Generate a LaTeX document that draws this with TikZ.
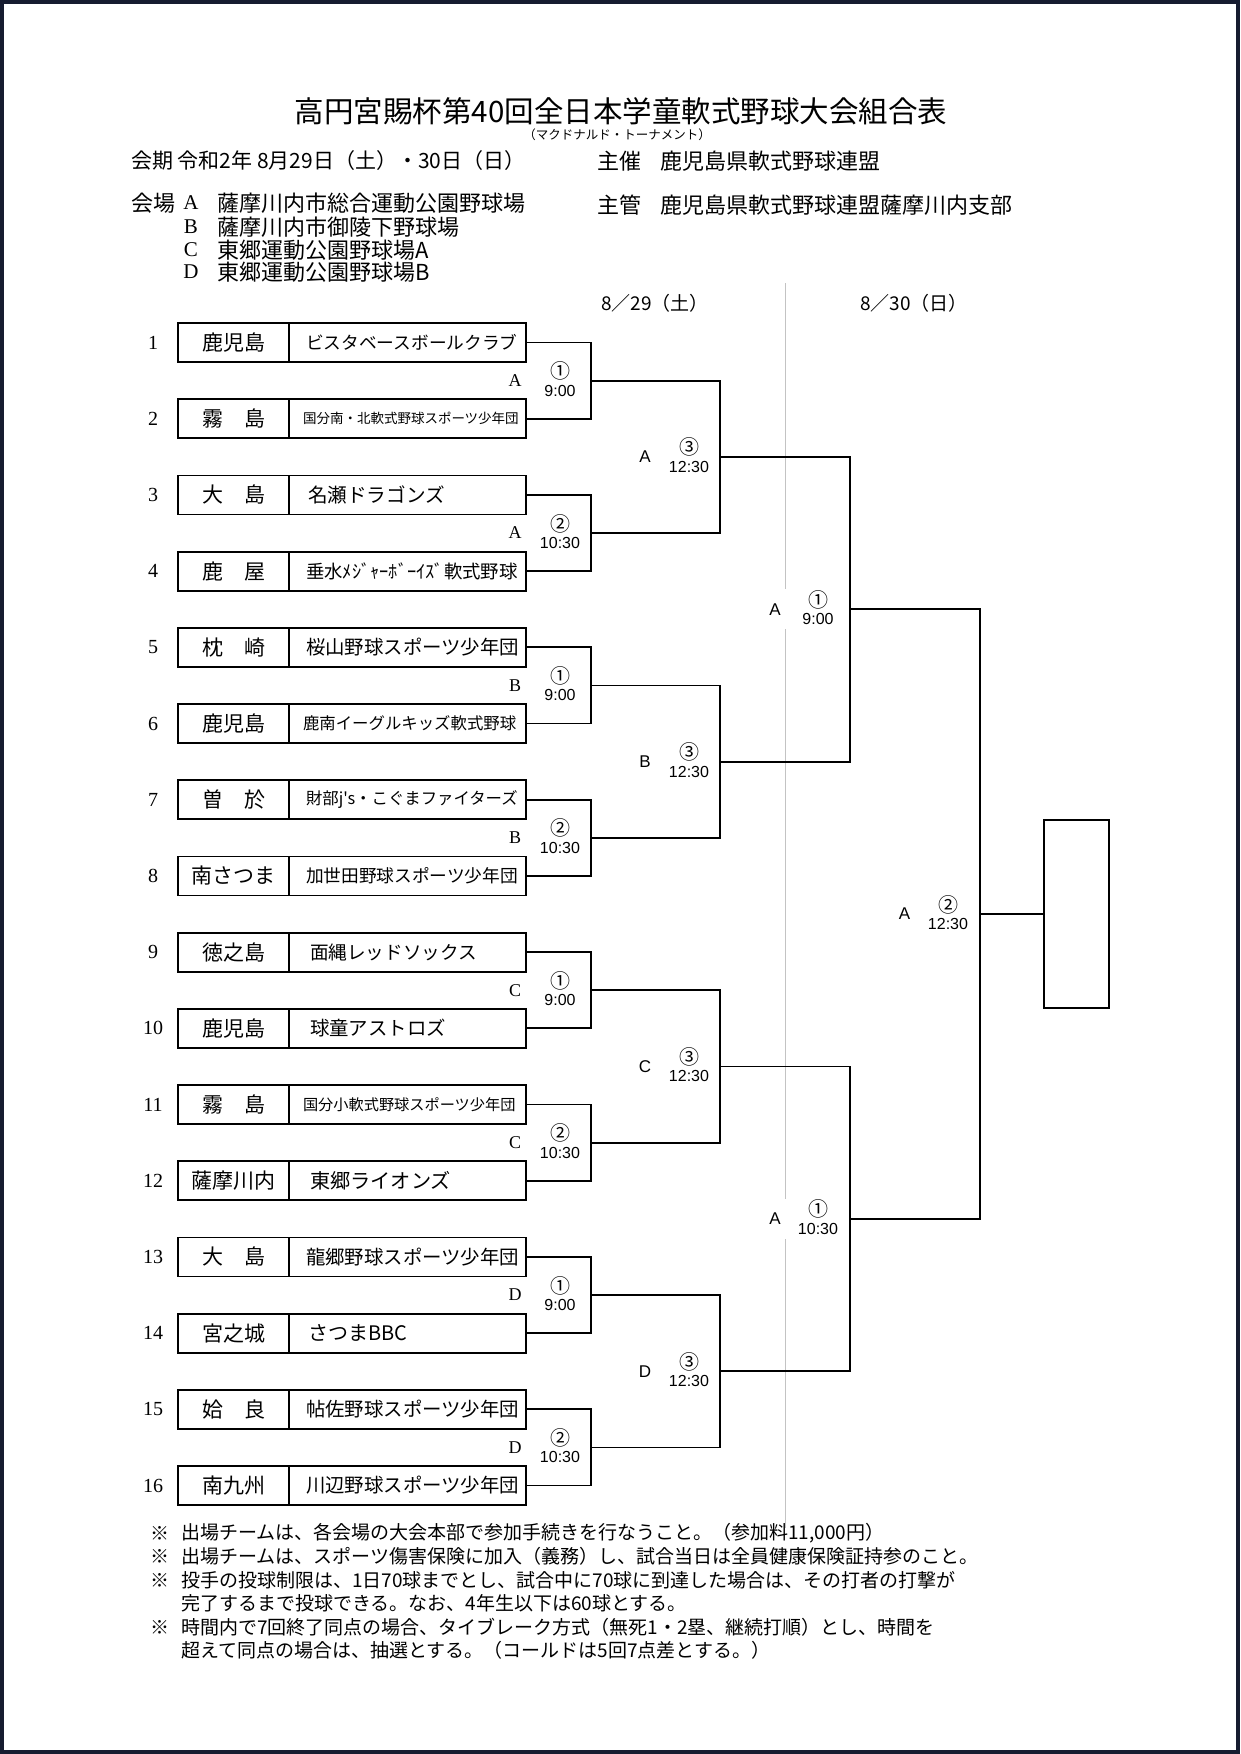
\documentclass[tikz,border=0pt]{standalone}
\usepackage{fontspec}
\setmainfont{Liberation Serif}
\newfontfamily\jp{Noto Sans CJK JP}
\newfontfamily\arialf{Liberation Sans}
\usetikzlibrary{calc}
\definecolor{framecol}{RGB}{22,28,48}
\definecolor{divcol}{RGB}{195,195,195}
\begin{document}
\begin{tikzpicture}[x=1pt,y=-1pt,
  every node/.style={inner sep=0pt, outer sep=0pt},
  cell/.style={draw=black, line width=1.8pt},
  namecell/.style={cell, minimum width=111pt, minimum height=39pt, anchor=west, font=\jp\fontsize{21}{24}\selectfont},
  clubcell/.style={cell, minimum width=237pt, minimum height=39pt, anchor=west},
  seed/.style={font=\fontsize{20}{22}\selectfont},
  bracket/.style={line width=1.8pt},
  ven1/.style={font=\fontsize{18}{20}\selectfont},
  ven/.style={font=\arialf\fontsize{17}{19}\selectfont},
  circ/.style={font=\jp\fontsize{20}{22}\selectfont},
  tm/.style={font=\arialf\fontsize{16}{18}\selectfont},
  hdr/.style={font=\jp\fontsize{22}{24}\selectfont, anchor=west},
  note/.style={font=\jp\fontsize{19}{21}\selectfont, anchor=west},
  blank/.style={fill=white, minimum width=26pt, minimum height=40pt},
]
\useasboundingbox (0,0) rectangle (1240,1754);
\fill[white] (0,0) rectangle (1240,1754);
\draw[framecol, line width=4pt] (2,2) rectangle (1238,1752);

% title
\node[font=\jp\fontsize{29.5}{32}\selectfont] (title) at (621,111) {高円宮賜杯第40回全日本学童軟式野球大会組合表};
\node[font=\jp\fontsize{12.5}{14}\selectfont] (sub) at (617,135) {（マクドナルド・トーナメント）};

% header
\node[hdr, font=\jp\fontsize{21}{24}\selectfont] (kaiki) at (131,161) {会期 令和2年 8月29日（土）・30日（日）};
\node[hdr] (kaijo) at (131,203) {会場};
\node[font=\fontsize{21}{24}\selectfont] (vA) at (191,203) {A};
\node[font=\fontsize{21}{24}\selectfont] (vB) at (191,227) {B};
\node[font=\fontsize{21}{24}\selectfont] (vC) at (191,250) {C};
\node[font=\fontsize{21}{24}\selectfont] (vD) at (191,272) {D};
\node[hdr] (vAn) at (217,203) {薩摩川内市総合運動公園野球場};
\node[hdr] (vBn) at (217,227) {薩摩川内市御陵下野球場};
\node[hdr] (vCn) at (217,250) {東郷運動公園野球場A};
\node[hdr] (vDn) at (217,272) {東郷運動公園野球場B};
\node[hdr] (shusai) at (597,161) {主催};
\node[hdr] (shusaiv) at (660,161) {鹿児島県軟式野球連盟};
\node[hdr] (shukan) at (597,205) {主管};
\node[hdr] (shukanv) at (660,205) {鹿児島県軟式野球連盟薩摩川内支部};

% dates
\node[font=\jp\fontsize{19}{21}\selectfont] (d1) at (655,303) {8／29（土）};
\node[font=\jp\fontsize{19}{21}\selectfont] (d2) at (914,303) {8／30（日）};

% divider
\draw[divcol, line width=1pt] (785,283) -- (785,1528);

% teams
\foreach \i/\nm/\cl/\fs/\xo in {
 1/鹿児島/ビスタベースボールクラブ/17.7/17,
 2/霧　島/国分南・北軟式野球スポーツ少年団/13.5/14,
 3/大　島/名瀬ドラゴンズ/19.6/19,
 4/鹿　屋/垂水ﾒｼﾞｬｰﾎﾞｰｲｽﾞ軟式野球/18.4/17,
 5/枕　崎/桜山野球スポーツ少年団/19.4/17,
 6/鹿児島/鹿南イーグルキッズ軟式野球/16.4/14,
 7/曽　於/財部j's・こぐまファイターズ/16.4/17,
 8/南さつま/加世田野球スポーツ少年団/17.7/17,
 9/徳之島/面縄レッドソックス/18.6/21,
 10/鹿児島/球童アストロズ/19.4/21,
 11/霧　島/国分小軟式野球スポーツ少年団/15.2/14,
 12/薩摩川内/東郷ライオンズ/20.2/21,
 13/大　島/龍郷野球スポーツ少年団/19.4/17,
 14/宮之城/さつまBBC/20/19,
 15/姶　良/帖佐野球スポーツ少年団/19.4/17,
 16/南九州/川辺野球スポーツ少年団/19.4/17}
{
 \pgfmathsetmacro{\y}{342.5+76.2*(\i-1)}
 \node[seed] (s\i) at (153,\y) {\i};
 \node[namecell] (n\i) at (178,\y) {\nm};
 \node[clubcell] (c\i) at (n\i.east) {};
 \node[anchor=west, font=\jp\fontsize{\fs}{\fs}\selectfont] (ct\i) at ($(c\i.west)+(\xo,0)$) {\cl};
}

% match points
\foreach \k in {1,...,8} {
  \pgfmathsetmacro{\m}{342.5+76.2*(2*\k-1.5)}
  \coordinate (m1-\k) at (591,\m);
}
\foreach \j in {1,...,4} {
  \pgfmathsetmacro{\m}{342.5+76.2*(4*\j-2.5)}
  \coordinate (m2-\j) at (720,\m);
}
\foreach \h in {1,2} {
  \pgfmathsetmacro{\m}{342.5+76.2*(8*\h-4.5)}
  \coordinate (m3-\h) at (850,\m);
}
\coordinate (m4) at (980,914);
\node[cell, minimum width=65pt, minimum height=188.5pt] (champ) at (1076.5,914) {};

% brackets
\foreach \k in {1,...,8} {
  \pgfmathtruncatemacro{\a}{2*\k-1}
  \pgfmathtruncatemacro{\b}{2*\k}
  \draw[bracket] (c\a.east) -| (m1-\k) |- (c\b.east);
}
\foreach \j in {1,...,4} {
  \pgfmathtruncatemacro{\a}{2*\j-1}
  \pgfmathtruncatemacro{\b}{2*\j}
  \draw[bracket] (m1-\a) -| (m2-\j) |- (m1-\b);
}
\draw[bracket] (m2-1) -| (m3-1) |- (m2-2);
\draw[bracket] (m2-3) -| (m3-2) |- (m2-4);
\draw[bracket] (m3-1) -| (m4) |- (m3-2);
\draw[bracket] (m4) -- (champ.west);

% labels round 1
\foreach \k/\L/\c/\t in {1/A/①/9:00,2/A/②/10:30,3/B/①/9:00,4/B/②/10:30,5/C/①/9:00,6/C/②/10:30,7/D/①/9:00,8/D/②/10:30} {
  \node[ven1] (r1let-\k) at ($(m1-\k)+(-76,0)$) {\L};
  \node[circ] (r1num-\k) at ($(m1-\k)+(-31,-9.5)$) {\c};
  \node[tm] (r1tm-\k) at ($(m1-\k)+(-31,10)$) {\t};
}
% round 2
\foreach \j/\L in {1/A,2/B,3/C,4/D} {
  \node[ven] (r2let-\j) at ($(m2-\j)+(-75,0)$) {\L};
  \node[circ] (r2num-\j) at ($(m2-\j)+(-31,-9.5)$) {③};
  \node[tm] (r2tm-\j) at ($(m2-\j)+(-31,10)$) {12:30};
}
% round 3
\foreach \h/\t in {1/9:00,2/10:30} {
  \node[ven, blank] (r3let-\h) at ($(m3-\h)+(-75,0)$) {A};
  \node[circ] (r3num-\h) at ($(m3-\h)+(-32,-9.5)$) {①};
  \node[tm] (r3tm-\h) at ($(m3-\h)+(-32,10)$) {\t};
}
% final
\node[ven] (r4let) at ($(m4)+(-75.5,0)$) {A};
\node[circ] (r4num) at ($(m4)+(-32,-9.5)$) {②};
\node[tm] (r4tm) at ($(m4)+(-32,10)$) {12:30};

% notes
\node[note] (a1) at (150,1533) {※};
\node[note] (t1) at (181,1533) {出場チームは、各会場の大会本部で参加手続きを行なうこと。（参加料11,000円）};
\node[note] (a2) at (150,1556) {※};
\node[note] (t2) at (181,1556) {出場チームは、スポーツ傷害保険に加入（義務）し、試合当日は全員健康保険証持参のこと。};
\node[note] (a3) at (150,1580) {※};
\node[note] (t3) at (181,1580) {投手の投球制限は、1日70球までとし、試合中に70球に到達した場合は、その打者の打撃が};
\node[note] (t4) at (181,1603) {完了するまで投球できる。なお、4年生以下は60球とする。};
\node[note] (a5) at (150,1627) {※};
\node[note] (t5) at (181,1627) {時間内で7回終了同点の場合、タイブレーク方式（無死1・2塁、継続打順）とし、時間を};
\node[note] (t6) at (181,1650) {超えて同点の場合は、抽選とする。（コールドは5回7点差とする。）};
\end{tikzpicture}
\end{document}
